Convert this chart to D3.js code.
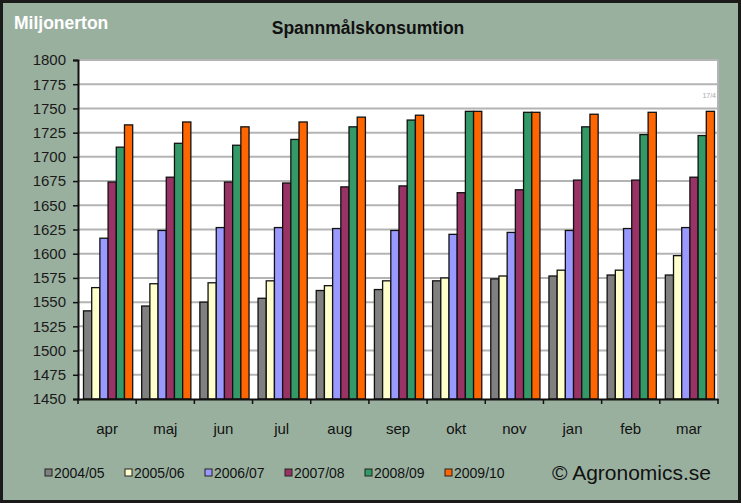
<!DOCTYPE html>
<html><head><meta charset="utf-8">
<script src="https://cdn.jsdelivr.net/npm/d3@7"></script>
<style>body{margin:0;background:#fff}svg{display:block}</style>
</head><body>
<script>
const months = ["apr","maj","jun","jul","aug","sep","okt","nov","jan","feb","mar"];
const seriesNames = ["2004/05","2005/06","2006/07","2007/08","2008/09","2009/10"];
const colors = ["#808080","#FFFFCC","#9999FF","#993366","#339966","#FF6600"];
const s2004 = [1541,1546,1550,1554,1562,1563,1572,1574,1577,1578,1578];
const s2005 = [1565,1569,1570,1572,1567,1572,1575,1577,1583,1583,1598];
const s2006 = [1616,1624,1627,1627,1626,1624,1620,1622,1624,1626,1627];
const s2007 = [1674,1679,1674,1673,1669,1670,1663,1666,1676,1676,1679];
const s2008 = [1710,1714,1712,1718,1731,1738,1747,1746,1731,1723,1722];
const s2009 = [1733,1736,1731,1736,1741,1743,1747,1746,1744,1746,1747];
const allSeries = [s2004,s2005,s2006,s2007,s2008,s2009];
const yTicks = [1450,1475,1500,1525,1550,1575,1600,1625,1650,1675,1700,1725,1750,1775,1800];

const W = 741, H = 503;
const FONT = "Arial, 'Liberation Sans', sans-serif";
const svg = d3.select("body").append("svg").attr("width", W).attr("height", H);
svg.append("rect").attr("x",0).attr("y",0).attr("width",W).attr("height",H).attr("fill","#9AB09F");
svg.append("rect").attr("x",1.5).attr("y",1.5).attr("width",W-3).attr("height",H-3)
  .attr("fill","none").attr("stroke","#1a1a1a").attr("stroke-width",3);

const L = 78, R = 718, T = 60, B = 399;
const y = d3.scaleLinear().domain([1450,1800]).range([B,T]);
const x0 = d3.scaleBand().domain(months).range([L,R]).paddingInner(0).paddingOuter(0);
const x1 = d3.scaleBand().domain(seriesNames).range([5.5, x0.bandwidth()-3.5]).padding(0);

// plot background
svg.append("rect").attr("x",L).attr("y",T).attr("width",R-L).attr("height",B-T).attr("fill","#fff");
// gridlines
svg.append("g").selectAll("line").data(yTicks.filter(t=>t>1450)).join("line")
  .attr("x1",L).attr("x2",R).attr("y1",d=>y(d)).attr("y2",d=>y(d))
  .attr("stroke","#b4b4b4").attr("stroke-width",2);
svg.append("line").attr("x1",R).attr("x2",R).attr("y1",T).attr("y2",B).attr("stroke","#b4b4b4").attr("stroke-width",2);

// bars
const g = svg.append("g");
months.forEach((m,i)=>{
  seriesNames.forEach((s,j)=>{
    const v = allSeries[j][i];
    g.append("rect")
      .attr("x", x0(m)+x1(s)).attr("y", y(v))
      .attr("width", x1.bandwidth()).attr("height", y(1450)-y(v))
      .attr("fill", colors[j]).attr("stroke","#111").attr("stroke-width",1.3);
  });
});

// y axis
const yAxis = d3.axisLeft(y).tickValues(yTicks).tickSize(5).tickPadding(7).tickFormat(d3.format("d"));
const ya = svg.append("g").attr("transform",`translate(${L},0)`).call(yAxis);
ya.select(".domain").attr("stroke","#111").attr("stroke-width",2);
ya.selectAll(".tick line").attr("stroke","#111").attr("stroke-width",1.5);
ya.selectAll("text").attr("font-family",FONT).attr("font-size",15).attr("fill","#1a1a1a");

// x axis
const xa = svg.append("g").attr("transform",`translate(0,${B})`).call(d3.axisBottom(x0).tickSize(0).tickPadding(24));
xa.select(".domain").attr("stroke","#111").attr("stroke-width",2);
xa.selectAll("text").attr("font-family",FONT).attr("font-size",15).attr("fill","#111");
xa.selectAll(".sep").data(months.concat(["_end"])).join("line")
  .attr("x1",(d,i)=> i<months.length ? x0(d) : R).attr("x2",(d,i)=> i<months.length ? x0(d) : R)
  .attr("y1",0).attr("y2",5).attr("stroke","#111").attr("stroke-width",1.5);

// titles
svg.append("text").attr("x",14).attr("y",29).text("Miljonerton")
  .attr("font-family",FONT).attr("font-weight","bold").attr("font-size",17.5)
  .attr("fill","#fff");
svg.append("text").attr("x",368).attr("y",34).attr("text-anchor","middle").text("Spannmålskonsumtion")
  .attr("font-family",FONT).attr("font-weight","bold").attr("font-size",17.5)
  .attr("fill","#111");
svg.append("text").attr("x",716).attr("y",98).attr("text-anchor","end").text("17/4")
  .attr("font-family",FONT).attr("font-size",7).attr("fill","#aaa");

// legend
const lg = svg.append("g");
seriesNames.forEach((s,j)=>{
  const lx = 45 + j*80;
  lg.append("rect").attr("x",lx).attr("y",469).attr("width",7).attr("height",7)
    .attr("fill",colors[j]).attr("stroke","#222").attr("stroke-width",1);
  lg.append("text").attr("x",lx+9).attr("y",477.5).text(s)
    .attr("font-family",FONT).attr("font-size",14).attr("fill","#111");
});
svg.append("text").attr("x",552).attr("y",480).text("© Agronomics.se")
  .attr("font-family",FONT).attr("font-size",21).attr("fill","#111");
</script>
</body></html>
